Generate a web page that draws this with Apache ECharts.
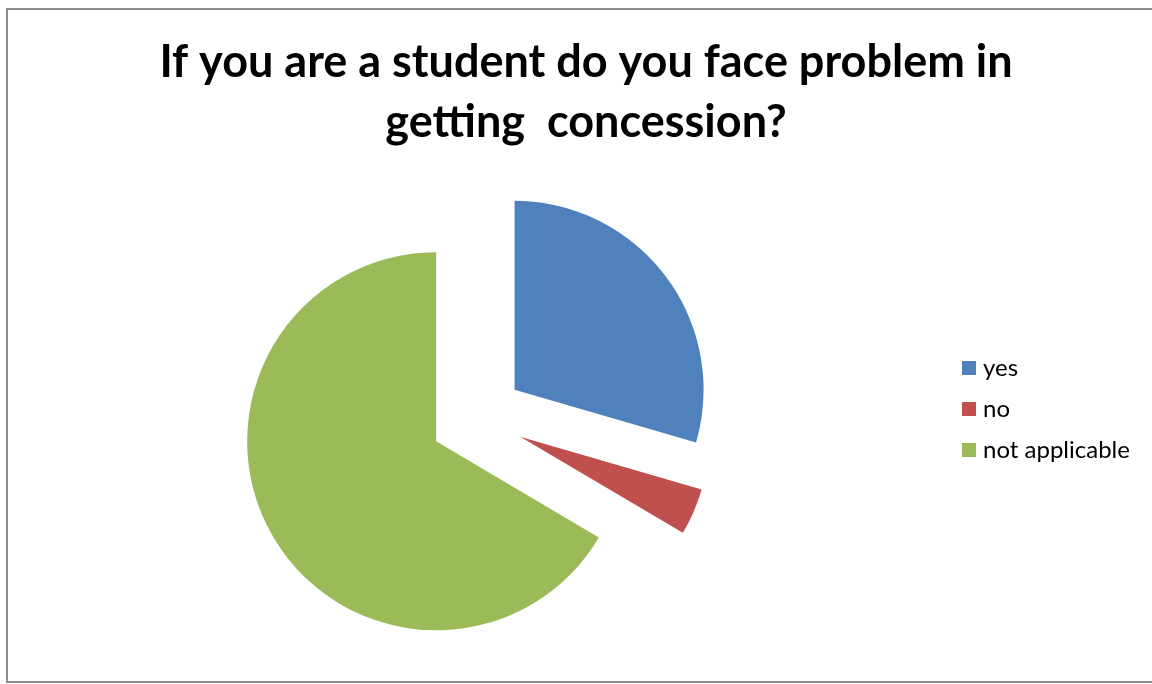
<!DOCTYPE html>
<html>
<head>
<meta charset="utf-8">
<title>Student concession survey</title>
<script src="https://cdn.jsdelivr.net/npm/echarts@6/dist/echarts.min.js"></script>
<style>
  html, body { margin: 0; padding: 0; background: #ffffff; }
  #chart { width: 1152px; height: 684px; }
</style>
</head>
<body>
<div id="chart"></div>
<script>
// Survey answers
const categories = ['yes', 'no', 'not applicable'];
const responses = [59, 8, 133];
const sliceColors = ['#4F81BD', '#C0504D', '#9BBB59'];
const titleText = 'If you are a student do you face problem in\ngetting  concession?';

const pieData = categories.map((name, i) => ({
  name: name,
  value: responses[i],
  selected: true,
  itemStyle: { color: sliceColors[i] }
}));

const chart = echarts.init(document.getElementById('chart'), null, { renderer: 'canvas' });

chart.setOption({
  backgroundColor: '#ffffff',
  animation: false,
  title: {
    text: titleText,
    left: 581,
    top: 27,
    textAlign: 'center',
    textStyle: {
      fontFamily: 'Lato',
      fontWeight: 'bold',
      fontSize: 45,
      lineHeight: 60,
      color: '#000000'
    }
  },
  legend: {
    orient: 'vertical',
    left: 957,
    top: 351,
    itemWidth: 14,
    itemHeight: 14,
    itemGap: 17,
    icon: 'rect',
    selectedMode: false,
    textStyle: {
      fontFamily: 'Lato',
      fontSize: 24,
      color: '#000000',
      padding: [0, 0, 0, 2]
    },
    data: categories
  },
  graphic: [{
    type: 'rect',
    shape: { x: 7, y: 9, width: 1160, height: 673 },
    style: { fill: 'none', stroke: '#8c8c8c', lineWidth: 2 },
    silent: true,
    z: -1
  }],
  series: [{
    type: 'pie',
    center: [477, 418],
    radius: 189,
    startAngle: 90,
    clockwise: true,
    selectedMode: 'multiple',
    selectedOffset: 47,
    label: { show: false },
    labelLine: { show: false },
    emphasis: { scale: false },
    itemStyle: { borderWidth: 0 },
    data: pieData
  }]
});
</script>
</body>
</html>
